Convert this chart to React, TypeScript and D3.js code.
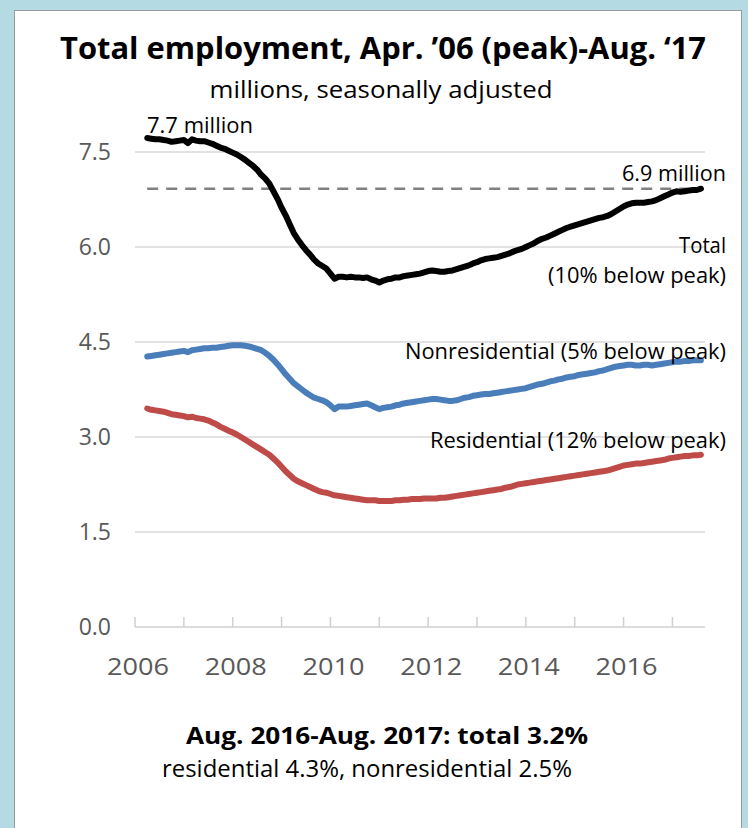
import { useEffect, useMemo, useRef } from "react";
import * as d3 from "d3";

const WIDTH = 748;
const HEIGHT = 828;
const PLOT = { left: 135, right: 705, top: 152, bottom: 627 };
const FONT = "'Open Sans', 'Noto Sans', sans-serif";

// monthly, Apr. 2006 - Aug. 2017, millions, seasonally adjusted
const START_YEAR = 2006;
const START_MONTH = 4;

const total = [
  7.72, 7.71, 7.7, 7.7, 7.69, 7.68, 7.66, 7.67, 7.68,
  7.69, 7.64, 7.7, 7.68, 7.67, 7.67, 7.65, 7.63, 7.6, 7.57, 7.55, 7.52,
  7.49, 7.46, 7.42, 7.38, 7.33, 7.28, 7.22, 7.14, 7.08, 7.0, 6.88, 6.76,
  6.62, 6.5, 6.36, 6.22, 6.12, 6.03, 5.95, 5.88, 5.8, 5.74, 5.7, 5.66,
  5.58, 5.5, 5.53, 5.53, 5.52, 5.53, 5.52, 5.52, 5.51, 5.52, 5.49, 5.47,
  5.44, 5.47, 5.49, 5.5, 5.52, 5.52, 5.54, 5.55, 5.56, 5.57, 5.58, 5.6,
  5.62, 5.63, 5.62, 5.61, 5.61, 5.62, 5.63, 5.65, 5.67, 5.69, 5.71, 5.74,
  5.76, 5.79, 5.81, 5.82, 5.83, 5.84, 5.86, 5.88, 5.9, 5.93, 5.95, 5.97,
  6.0, 6.03, 6.06, 6.1, 6.13, 6.15, 6.18, 6.21, 6.24, 6.27, 6.3, 6.32,
  6.34, 6.36, 6.38, 6.4, 6.42, 6.44, 6.46, 6.47, 6.49, 6.52, 6.56, 6.6,
  6.64, 6.67, 6.69, 6.7, 6.7, 6.7, 6.71, 6.72, 6.74, 6.77, 6.8, 6.83,
  6.86, 6.88, 6.87, 6.88, 6.89, 6.9, 6.9, 6.92,
];

const nonresidential = [
  4.27, 4.28, 4.29, 4.3, 4.31, 4.32, 4.33, 4.34, 4.35,
  4.36, 4.34, 4.37, 4.38, 4.39, 4.4, 4.4, 4.41, 4.41, 4.42, 4.43, 4.44,
  4.45, 4.45, 4.45, 4.44, 4.43, 4.41, 4.39, 4.37, 4.33, 4.28, 4.22, 4.15,
  4.07, 3.99, 3.92, 3.85, 3.8, 3.75, 3.7, 3.66, 3.62, 3.6, 3.58, 3.55,
  3.5, 3.44, 3.48, 3.48, 3.48, 3.49, 3.5, 3.51, 3.52, 3.53, 3.5, 3.47,
  3.44, 3.46, 3.47, 3.48, 3.5, 3.51, 3.53, 3.54, 3.55, 3.56, 3.57, 3.58,
  3.59, 3.6, 3.6, 3.59, 3.58, 3.57, 3.57, 3.58, 3.6, 3.62, 3.63, 3.65,
  3.66, 3.67, 3.68, 3.68, 3.69, 3.7, 3.71, 3.72, 3.73, 3.74, 3.75, 3.76,
  3.77, 3.79, 3.81, 3.83, 3.84, 3.86, 3.88, 3.89, 3.91, 3.92, 3.94, 3.95,
  3.96, 3.98, 3.99, 4.0, 4.01, 4.02, 4.04, 4.05, 4.07, 4.09, 4.11, 4.12,
  4.13, 4.14, 4.14, 4.13, 4.13, 4.14, 4.14, 4.13, 4.14, 4.15, 4.16, 4.17,
  4.18, 4.19, 4.19, 4.2, 4.2, 4.21, 4.21, 4.21,
];

const residential = [
  3.45, 3.43, 3.42, 3.41, 3.4, 3.38, 3.36, 3.35, 3.34,
  3.33, 3.31, 3.32, 3.3, 3.29, 3.28, 3.26, 3.23, 3.2, 3.16, 3.13, 3.1,
  3.07, 3.04, 3.0, 2.96, 2.92, 2.88, 2.84, 2.8, 2.76, 2.72, 2.66, 2.6,
  2.53, 2.46, 2.4, 2.34, 2.3, 2.27, 2.24, 2.21, 2.18, 2.15, 2.13, 2.12,
  2.1, 2.08, 2.07, 2.06, 2.05, 2.04, 2.03, 2.02, 2.01, 2.0, 2.0, 2.0,
  1.99, 1.99, 1.99, 1.99, 2.0, 2.0, 2.01, 2.01, 2.02, 2.02, 2.02, 2.03,
  2.03, 2.03, 2.03, 2.04, 2.04, 2.05, 2.06, 2.07, 2.08, 2.09, 2.1, 2.11,
  2.12, 2.13, 2.14, 2.15, 2.16, 2.17, 2.18, 2.2, 2.21, 2.23, 2.25, 2.26,
  2.27, 2.28, 2.29, 2.3, 2.31, 2.32, 2.33, 2.34, 2.35, 2.36, 2.37, 2.38,
  2.39, 2.4, 2.41, 2.42, 2.43, 2.44, 2.45, 2.46, 2.47, 2.49, 2.51, 2.53,
  2.55, 2.56, 2.57, 2.58, 2.58, 2.59, 2.6, 2.61, 2.62, 2.63, 2.64, 2.66,
  2.67, 2.68, 2.69, 2.7, 2.7, 2.71, 2.71, 2.72,
];

const yTicks = [0, 1.5, 3, 4.5, 6, 7.5];
const yearTicks = [2006, 2007, 2008, 2009, 2010, 2011, 2012, 2013, 2014, 2015, 2016, 2017];
const yearLabels = [2006, 2008, 2010, 2012, 2014, 2016];

const series = [
  { name: "residential", values: residential, color: "#be4b48" },
  { name: "nonresidential", values: nonresidential, color: "#4a7ebb" },
  { name: "total", values: total, color: "#000000" },
];

const monthToYear = (i: number) => START_YEAR + (START_MONTH - 1 + i) / 12;

export default function App() {
  const gridRef = useRef<SVGGElement>(null);

  const xScale = useMemo(
    () => d3.scaleLinear().domain([2006, 2017 + 8 / 12]).range([PLOT.left, PLOT.right]),
    []
  );
  const yScale = useMemo(
    () => d3.scaleLinear().domain([0, 7.5]).range([PLOT.bottom, PLOT.top]),
    []
  );

  const line = d3
    .line<number>()
    .x((_, i) => xScale(monthToYear(i)))
    .y((d) => yScale(d))
    .curve(d3.curveLinear);

  // gridlines + axis ticks
  useEffect(() => {
    if (!gridRef.current) return;
    const g = d3.select(gridRef.current);
    g.selectAll("*").remove();

    g.selectAll("line.grid")
      .data(yTicks.filter((t) => t > 0))
      .join("line")
      .attr("class", "grid")
      .attr("x1", PLOT.left)
      .attr("x2", PLOT.right)
      .attr("y1", (d) => yScale(d))
      .attr("y2", (d) => yScale(d))
      .attr("stroke", "#d9d9d9")
      .attr("stroke-width", 1.5);

    g.append("line")
      .attr("x1", PLOT.left)
      .attr("x2", PLOT.right)
      .attr("y1", yScale(0))
      .attr("y2", yScale(0))
      .attr("stroke", "#d0d0d0")
      .attr("stroke-width", 1.5);

    g.selectAll("line.tick")
      .data(yearTicks)
      .join("line")
      .attr("class", "tick")
      .attr("x1", (d) => xScale(d))
      .attr("x2", (d) => xScale(d))
      .attr("y1", yScale(0))
      .attr("y2", yScale(0) - 10)
      .attr("stroke", "#d0d0d0")
      .attr("stroke-width", 1.5);

    g.selectAll("text.ylab")
      .data(yTicks)
      .join("text")
      .attr("class", "ylab")
      .attr("x", 111)
      .attr("y", (d) => yScale(d) + 8)
      .attr("text-anchor", "end")
      .attr("font-family", FONT)
      .attr("font-size", 23)
      .attr("fill", "#595959")
      .text((d) => d3.format(".1f")(d));

    g.selectAll("text.xlab")
      .data(yearLabels)
      .join("text")
      .attr("class", "xlab")
      .attr("x", (d) => xScale(d) + 3)
      .attr("y", yScale(0) + 48)
      .attr("text-anchor", "middle")
      .attr("font-family", FONT)
      .attr("font-size", 23)
      .attr("fill", "#595959")
      .attr("textLength", 62)
      .attr("lengthAdjust", "spacingAndGlyphs")
      .text((d) => d);
  }, [xScale, yScale]);

  const last = total.length - 1;
  const peakLevel = total[last];

  return (
    <svg
      width={WIDTH}
      height={HEIGHT}
      style={{ position: "absolute", left: 0, top: 0 }}
      fontFamily={FONT}
    >
      <rect x={0} y={0} width={WIDTH} height={HEIGHT} fill="#b4dbe3" />
      <rect x={14.5} y={10.5} width={727} height={HEIGHT} fill="#ffffff" stroke="#9a9a9a" strokeWidth={1} />

      <text x={383} y={59} textAnchor="middle" fontSize={30} fontWeight="bold" fill="#000" textLength={646} lengthAdjust="spacingAndGlyphs">
        Total employment, Apr. ’06 (peak)-Aug. ‘17
      </text>
      <text x={381} y={98} textAnchor="middle" fontSize={23} fill="#000" textLength={343} lengthAdjust="spacingAndGlyphs">
        millions, seasonally adjusted
      </text>

      <g ref={gridRef} />

      <line
        x1={xScale(monthToYear(0))}
        x2={xScale(monthToYear(last))}
        y1={yScale(peakLevel)}
        y2={yScale(peakLevel)}
        stroke="#808080"
        strokeWidth={2.5}
        strokeDasharray="11 8"
      />

      {series.map((s) => (
        <path
          key={s.name}
          d={line(s.values) ?? ""}
          fill="none"
          stroke={s.color}
          strokeWidth={6}
          strokeLinejoin="round"
          strokeLinecap="round"
        />
      ))}

      <g fontSize={21} fill="#000">
        <text x={147} y={133} textLength={106} lengthAdjust="spacingAndGlyphs">7.7 million</text>
        <text x={726} y={181} textAnchor="end" textLength={104} lengthAdjust="spacingAndGlyphs">6.9 million</text>
        <text x={726} y={253} textAnchor="end" textLength={47} lengthAdjust="spacingAndGlyphs">Total</text>
        <text x={726} y={283} textAnchor="end" textLength={178} lengthAdjust="spacingAndGlyphs">(10% below peak)</text>
        <text x={726} y={359} textAnchor="end" textLength={321} lengthAdjust="spacingAndGlyphs">Nonresidential (5% below peak)</text>
        <text x={726} y={448} textAnchor="end" textLength={296} lengthAdjust="spacingAndGlyphs">Residential (12% below peak)</text>
      </g>

      <text x={387} y={744} textAnchor="middle" fontSize={23} fontWeight="bold" fill="#000" textLength={402} lengthAdjust="spacingAndGlyphs">
        Aug. 2016-Aug. 2017: total 3.2%
      </text>
      <text x={367} y={777} textAnchor="middle" fontSize={23} fill="#000" textLength={410} lengthAdjust="spacingAndGlyphs">
        residential 4.3%, nonresidential 2.5%
      </text>
    </svg>
  );
}
